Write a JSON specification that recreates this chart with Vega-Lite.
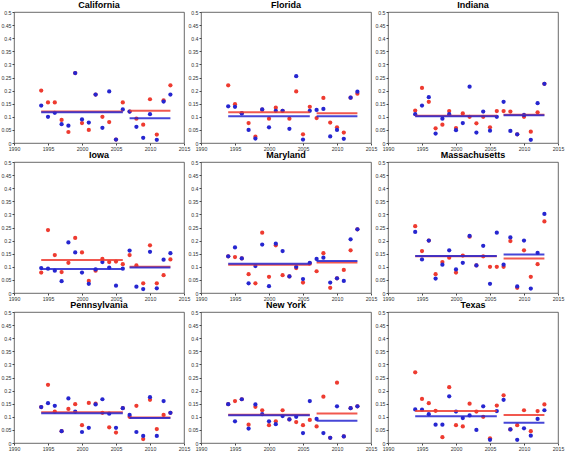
{
"$schema": "https://vega.github.io/schema/vega-lite/v6.json",
"background": "white",
"padding": {"left": 0, "top": 0, "right": 0, "bottom": 0},
"data": {"values": [
{"kind":"obs","state":"California","year":1994,"series":"Series 1","value":0.2},{"kind":"obs","state":"California","year":1994,"series":"Series 2","value":0.143},
{"kind":"obs","state":"California","year":1995,"series":"Series 1","value":0.155},{"kind":"obs","state":"California","year":1995,"series":"Series 2","value":0.1},
{"kind":"obs","state":"California","year":1996,"series":"Series 1","value":0.155},{"kind":"obs","state":"California","year":1996,"series":"Series 2","value":0.115},
{"kind":"obs","state":"California","year":1997,"series":"Series 1","value":0.088},{"kind":"obs","state":"California","year":1997,"series":"Series 2","value":0.072},
{"kind":"obs","state":"California","year":1998,"series":"Series 1","value":0.042},{"kind":"obs","state":"California","year":1998,"series":"Series 2","value":0.066},
{"kind":"obs","state":"California","year":1999,"series":"Series 1","value":0.267},{"kind":"obs","state":"California","year":1999,"series":"Series 2","value":0.267},
{"kind":"obs","state":"California","year":2000,"series":"Series 1","value":0.076},{"kind":"obs","state":"California","year":2000,"series":"Series 2","value":0.09},
{"kind":"obs","state":"California","year":2001,"series":"Series 1","value":0.05},{"kind":"obs","state":"California","year":2001,"series":"Series 2","value":0.078},
{"kind":"obs","state":"California","year":2002,"series":"Series 1","value":0.185},{"kind":"obs","state":"California","year":2002,"series":"Series 2","value":0.185},
{"kind":"obs","state":"California","year":2003,"series":"Series 1","value":0.1},{"kind":"obs","state":"California","year":2003,"series":"Series 2","value":0.058},
{"kind":"obs","state":"California","year":2004,"series":"Series 1","value":0.08},{"kind":"obs","state":"California","year":2004,"series":"Series 2","value":0.197},
{"kind":"obs","state":"California","year":2005,"series":"Series 1","value":0.013},{"kind":"obs","state":"California","year":2005,"series":"Series 2","value":0.013},
{"kind":"obs","state":"California","year":2006,"series":"Series 1","value":0.155},{"kind":"obs","state":"California","year":2006,"series":"Series 2","value":0.128},
{"kind":"obs","state":"California","year":2007,"series":"Series 1","value":0.12},{"kind":"obs","state":"California","year":2007,"series":"Series 2","value":0.12},
{"kind":"obs","state":"California","year":2008,"series":"Series 1","value":0.093},{"kind":"obs","state":"California","year":2008,"series":"Series 2","value":0.062},
{"kind":"obs","state":"California","year":2009,"series":"Series 1","value":0.07},{"kind":"obs","state":"California","year":2009,"series":"Series 2","value":0.02},
{"kind":"obs","state":"California","year":2010,"series":"Series 1","value":0.167},{"kind":"obs","state":"California","year":2010,"series":"Series 2","value":0.11},
{"kind":"obs","state":"California","year":2011,"series":"Series 1","value":0.032},{"kind":"obs","state":"California","year":2011,"series":"Series 2","value":0.012},
{"kind":"obs","state":"California","year":2012,"series":"Series 1","value":0.163},{"kind":"obs","state":"California","year":2012,"series":"Series 2","value":0.158},
{"kind":"obs","state":"California","year":2013,"series":"Series 1","value":0.22},{"kind":"obs","state":"California","year":2013,"series":"Series 2","value":0.185},
{"kind":"mean","state":"California","series":"Series 1","start":1994,"end":2006,"value":0.12},{"kind":"mean","state":"California","series":"Series 2","start":1994,"end":2006,"value":0.117},
{"kind":"mean","state":"California","series":"Series 1","start":2007,"end":2013,"value":0.123},{"kind":"mean","state":"California","series":"Series 2","start":2007,"end":2013,"value":0.094},

{"kind":"obs","state":"Florida","year":1994,"series":"Series 1","value":0.22},{"kind":"obs","state":"Florida","year":1994,"series":"Series 2","value":0.14},
{"kind":"obs","state":"Florida","year":1995,"series":"Series 1","value":0.148},{"kind":"obs","state":"Florida","year":1995,"series":"Series 2","value":0.138},
{"kind":"obs","state":"Florida","year":1996,"series":"Series 1","value":0.114},{"kind":"obs","state":"Florida","year":1996,"series":"Series 2","value":0.113},
{"kind":"obs","state":"Florida","year":1997,"series":"Series 1","value":0.076},{"kind":"obs","state":"Florida","year":1997,"series":"Series 2","value":0.05},
{"kind":"obs","state":"Florida","year":1998,"series":"Series 1","value":0.024},{"kind":"obs","state":"Florida","year":1998,"series":"Series 2","value":0.017},
{"kind":"obs","state":"Florida","year":1999,"series":"Series 1","value":0.127},{"kind":"obs","state":"Florida","year":1999,"series":"Series 2","value":0.128},
{"kind":"obs","state":"Florida","year":2000,"series":"Series 1","value":0.093},{"kind":"obs","state":"Florida","year":2000,"series":"Series 2","value":0.06},
{"kind":"obs","state":"Florida","year":2001,"series":"Series 1","value":0.135},{"kind":"obs","state":"Florida","year":2001,"series":"Series 2","value":0.123},
{"kind":"obs","state":"Florida","year":2002,"series":"Series 1","value":0.123},{"kind":"obs","state":"Florida","year":2002,"series":"Series 2","value":0.123},
{"kind":"obs","state":"Florida","year":2003,"series":"Series 1","value":0.093},{"kind":"obs","state":"Florida","year":2003,"series":"Series 2","value":0.054},
{"kind":"obs","state":"Florida","year":2004,"series":"Series 1","value":0.197},{"kind":"obs","state":"Florida","year":2004,"series":"Series 2","value":0.255},
{"kind":"obs","state":"Florida","year":2005,"series":"Series 1","value":0.033},{"kind":"obs","state":"Florida","year":2005,"series":"Series 2","value":0.013},
{"kind":"obs","state":"Florida","year":2006,"series":"Series 1","value":0.138},{"kind":"obs","state":"Florida","year":2006,"series":"Series 2","value":0.123},
{"kind":"obs","state":"Florida","year":2007,"series":"Series 1","value":0.095},{"kind":"obs","state":"Florida","year":2007,"series":"Series 2","value":0.126},
{"kind":"obs","state":"Florida","year":2008,"series":"Series 1","value":0.172},{"kind":"obs","state":"Florida","year":2008,"series":"Series 2","value":0.13},
{"kind":"obs","state":"Florida","year":2009,"series":"Series 1","value":0.078},{"kind":"obs","state":"Florida","year":2009,"series":"Series 2","value":0.025},
{"kind":"obs","state":"Florida","year":2010,"series":"Series 1","value":0.06},{"kind":"obs","state":"Florida","year":2010,"series":"Series 2","value":0.05},
{"kind":"obs","state":"Florida","year":2011,"series":"Series 1","value":0.04},{"kind":"obs","state":"Florida","year":2011,"series":"Series 2","value":0.016},
{"kind":"obs","state":"Florida","year":2012,"series":"Series 1","value":0.173},{"kind":"obs","state":"Florida","year":2012,"series":"Series 2","value":0.173},
{"kind":"obs","state":"Florida","year":2013,"series":"Series 1","value":0.188},{"kind":"obs","state":"Florida","year":2013,"series":"Series 2","value":0.196},
{"kind":"mean","state":"Florida","series":"Series 1","start":1994,"end":2006,"value":0.117},{"kind":"mean","state":"Florida","series":"Series 2","start":1994,"end":2006,"value":0.102},
{"kind":"mean","state":"Florida","series":"Series 1","start":2007,"end":2013,"value":0.114},{"kind":"mean","state":"Florida","series":"Series 2","start":2007,"end":2013,"value":0.102},

{"kind":"obs","state":"Indiana","year":1994,"series":"Series 1","value":0.124},{"kind":"obs","state":"Indiana","year":1994,"series":"Series 2","value":0.11},
{"kind":"obs","state":"Indiana","year":1995,"series":"Series 1","value":0.21},{"kind":"obs","state":"Indiana","year":1995,"series":"Series 2","value":0.143},
{"kind":"obs","state":"Indiana","year":1996,"series":"Series 1","value":0.157},{"kind":"obs","state":"Indiana","year":1996,"series":"Series 2","value":0.175},
{"kind":"obs","state":"Indiana","year":1997,"series":"Series 1","value":0.056},{"kind":"obs","state":"Indiana","year":1997,"series":"Series 2","value":0.036},
{"kind":"obs","state":"Indiana","year":1998,"series":"Series 1","value":0.07},{"kind":"obs","state":"Indiana","year":1998,"series":"Series 2","value":0.093},
{"kind":"obs","state":"Indiana","year":1999,"series":"Series 1","value":0.122},{"kind":"obs","state":"Indiana","year":1999,"series":"Series 2","value":0.11},
{"kind":"obs","state":"Indiana","year":2000,"series":"Series 1","value":0.057},{"kind":"obs","state":"Indiana","year":2000,"series":"Series 2","value":0.049},
{"kind":"obs","state":"Indiana","year":2001,"series":"Series 1","value":0.113},{"kind":"obs","state":"Indiana","year":2001,"series":"Series 2","value":0.076},
{"kind":"obs","state":"Indiana","year":2002,"series":"Series 1","value":0.1},{"kind":"obs","state":"Indiana","year":2002,"series":"Series 2","value":0.215},
{"kind":"obs","state":"Indiana","year":2003,"series":"Series 1","value":0.075},{"kind":"obs","state":"Indiana","year":2003,"series":"Series 2","value":0.04},
{"kind":"obs","state":"Indiana","year":2004,"series":"Series 1","value":0.1},{"kind":"obs","state":"Indiana","year":2004,"series":"Series 2","value":0.12},
{"kind":"obs","state":"Indiana","year":2005,"series":"Series 1","value":0.06},{"kind":"obs","state":"Indiana","year":2005,"series":"Series 2","value":0.047},
{"kind":"obs","state":"Indiana","year":2006,"series":"Series 1","value":0.122},{"kind":"obs","state":"Indiana","year":2006,"series":"Series 2","value":0.1},
{"kind":"obs","state":"Indiana","year":2007,"series":"Series 1","value":0.122},{"kind":"obs","state":"Indiana","year":2007,"series":"Series 2","value":0.157},
{"kind":"obs","state":"Indiana","year":2008,"series":"Series 1","value":0.12},{"kind":"obs","state":"Indiana","year":2008,"series":"Series 2","value":0.046},
{"kind":"obs","state":"Indiana","year":2009,"series":"Series 1","value":0.033},{"kind":"obs","state":"Indiana","year":2009,"series":"Series 2","value":0.033},
{"kind":"obs","state":"Indiana","year":2010,"series":"Series 1","value":0.1},{"kind":"obs","state":"Indiana","year":2010,"series":"Series 2","value":0.107},
{"kind":"obs","state":"Indiana","year":2011,"series":"Series 1","value":0.043},{"kind":"obs","state":"Indiana","year":2011,"series":"Series 2","value":0.012},
{"kind":"obs","state":"Indiana","year":2012,"series":"Series 1","value":0.117},{"kind":"obs","state":"Indiana","year":2012,"series":"Series 2","value":0.152},
{"kind":"obs","state":"Indiana","year":2013,"series":"Series 1","value":0.226},{"kind":"obs","state":"Indiana","year":2013,"series":"Series 2","value":0.226},
{"kind":"mean","state":"Indiana","series":"Series 1","start":1994,"end":2006,"value":0.104},{"kind":"mean","state":"Indiana","series":"Series 2","start":1994,"end":2006,"value":0.102},
{"kind":"mean","state":"Indiana","series":"Series 1","start":2007,"end":2013,"value":0.108},{"kind":"mean","state":"Indiana","series":"Series 2","start":2007,"end":2013,"value":0.106},

{"kind":"obs","state":"Iowa","year":1994,"series":"Series 1","value":0.078},{"kind":"obs","state":"Iowa","year":1994,"series":"Series 2","value":0.095},
{"kind":"obs","state":"Iowa","year":1995,"series":"Series 1","value":0.24},{"kind":"obs","state":"Iowa","year":1995,"series":"Series 2","value":0.093},
{"kind":"obs","state":"Iowa","year":1996,"series":"Series 1","value":0.145},{"kind":"obs","state":"Iowa","year":1996,"series":"Series 2","value":0.085},
{"kind":"obs","state":"Iowa","year":1997,"series":"Series 1","value":0.08},{"kind":"obs","state":"Iowa","year":1997,"series":"Series 2","value":0.045},
{"kind":"obs","state":"Iowa","year":1998,"series":"Series 1","value":0.115},{"kind":"obs","state":"Iowa","year":1998,"series":"Series 2","value":0.193},
{"kind":"obs","state":"Iowa","year":1999,"series":"Series 1","value":0.21},{"kind":"obs","state":"Iowa","year":1999,"series":"Series 2","value":0.155},
{"kind":"obs","state":"Iowa","year":2000,"series":"Series 1","value":0.155},{"kind":"obs","state":"Iowa","year":2000,"series":"Series 2","value":0.078},
{"kind":"obs","state":"Iowa","year":2001,"series":"Series 1","value":0.046},{"kind":"obs","state":"Iowa","year":2001,"series":"Series 2","value":0.035},
{"kind":"obs","state":"Iowa","year":2002,"series":"Series 1","value":0.085},{"kind":"obs","state":"Iowa","year":2002,"series":"Series 2","value":0.09},
{"kind":"obs","state":"Iowa","year":2003,"series":"Series 1","value":0.13},{"kind":"obs","state":"Iowa","year":2003,"series":"Series 2","value":0.118},
{"kind":"obs","state":"Iowa","year":2004,"series":"Series 1","value":0.118},{"kind":"obs","state":"Iowa","year":2004,"series":"Series 2","value":0.097},
{"kind":"obs","state":"Iowa","year":2005,"series":"Series 1","value":0.12},{"kind":"obs","state":"Iowa","year":2005,"series":"Series 2","value":0.028},
{"kind":"obs","state":"Iowa","year":2006,"series":"Series 1","value":0.11},{"kind":"obs","state":"Iowa","year":2006,"series":"Series 2","value":0.093},
{"kind":"obs","state":"Iowa","year":2007,"series":"Series 1","value":0.145},{"kind":"obs","state":"Iowa","year":2007,"series":"Series 2","value":0.162},
{"kind":"obs","state":"Iowa","year":2008,"series":"Series 1","value":0.105},{"kind":"obs","state":"Iowa","year":2008,"series":"Series 2","value":0.024},
{"kind":"obs","state":"Iowa","year":2009,"series":"Series 1","value":0.037},{"kind":"obs","state":"Iowa","year":2009,"series":"Series 2","value":0.015},
{"kind":"obs","state":"Iowa","year":2010,"series":"Series 1","value":0.182},{"kind":"obs","state":"Iowa","year":2010,"series":"Series 2","value":0.157},
{"kind":"obs","state":"Iowa","year":2011,"series":"Series 1","value":0.037},{"kind":"obs","state":"Iowa","year":2011,"series":"Series 2","value":0.018},
{"kind":"obs","state":"Iowa","year":2012,"series":"Series 1","value":0.068},{"kind":"obs","state":"Iowa","year":2012,"series":"Series 2","value":0.127},
{"kind":"obs","state":"Iowa","year":2013,"series":"Series 1","value":0.128},{"kind":"obs","state":"Iowa","year":2013,"series":"Series 2","value":0.152},
{"kind":"mean","state":"Iowa","series":"Series 1","start":1994,"end":2006,"value":0.126},{"kind":"mean","state":"Iowa","series":"Series 2","start":1994,"end":2006,"value":0.092},
{"kind":"mean","state":"Iowa","series":"Series 1","start":2007,"end":2013,"value":0.1},{"kind":"mean","state":"Iowa","series":"Series 2","start":2007,"end":2013,"value":0.097},

{"kind":"obs","state":"Maryland","year":1994,"series":"Series 1","value":0.14},{"kind":"obs","state":"Maryland","year":1994,"series":"Series 2","value":0.14},
{"kind":"obs","state":"Maryland","year":1995,"series":"Series 1","value":0.137},{"kind":"obs","state":"Maryland","year":1995,"series":"Series 2","value":0.174},
{"kind":"obs","state":"Maryland","year":1996,"series":"Series 1","value":0.132},{"kind":"obs","state":"Maryland","year":1996,"series":"Series 2","value":0.132},
{"kind":"obs","state":"Maryland","year":1997,"series":"Series 1","value":0.072},{"kind":"obs","state":"Maryland","year":1997,"series":"Series 2","value":0.037},
{"kind":"obs","state":"Maryland","year":1998,"series":"Series 1","value":0.037},{"kind":"obs","state":"Maryland","year":1998,"series":"Series 2","value":0.103},
{"kind":"obs","state":"Maryland","year":1999,"series":"Series 1","value":0.23},{"kind":"obs","state":"Maryland","year":1999,"series":"Series 2","value":0.185},
{"kind":"obs","state":"Maryland","year":2000,"series":"Series 1","value":0.062},{"kind":"obs","state":"Maryland","year":2000,"series":"Series 2","value":0.026},
{"kind":"obs","state":"Maryland","year":2001,"series":"Series 1","value":0.182},{"kind":"obs","state":"Maryland","year":2001,"series":"Series 2","value":0.188},
{"kind":"obs","state":"Maryland","year":2002,"series":"Series 1","value":0.068},{"kind":"obs","state":"Maryland","year":2002,"series":"Series 2","value":0.16},
{"kind":"obs","state":"Maryland","year":2003,"series":"Series 1","value":0.063},{"kind":"obs","state":"Maryland","year":2003,"series":"Series 2","value":0.063},
{"kind":"obs","state":"Maryland","year":2004,"series":"Series 1","value":0.095},{"kind":"obs","state":"Maryland","year":2004,"series":"Series 2","value":0.1},
{"kind":"obs","state":"Maryland","year":2005,"series":"Series 1","value":0.04},{"kind":"obs","state":"Maryland","year":2005,"series":"Series 2","value":0.053},
{"kind":"obs","state":"Maryland","year":2006,"series":"Series 1","value":0.112},{"kind":"obs","state":"Maryland","year":2006,"series":"Series 2","value":0.115},
{"kind":"obs","state":"Maryland","year":2007,"series":"Series 1","value":0.083},{"kind":"obs","state":"Maryland","year":2007,"series":"Series 2","value":0.13},
{"kind":"obs","state":"Maryland","year":2008,"series":"Series 1","value":0.152},{"kind":"obs","state":"Maryland","year":2008,"series":"Series 2","value":0.135},
{"kind":"obs","state":"Maryland","year":2009,"series":"Series 1","value":0.02},{"kind":"obs","state":"Maryland","year":2009,"series":"Series 2","value":0.04},
{"kind":"obs","state":"Maryland","year":2010,"series":"Series 1","value":0.056},{"kind":"obs","state":"Maryland","year":2010,"series":"Series 2","value":0.056},
{"kind":"obs","state":"Maryland","year":2011,"series":"Series 1","value":0.088},{"kind":"obs","state":"Maryland","year":2011,"series":"Series 2","value":0.046},
{"kind":"obs","state":"Maryland","year":2012,"series":"Series 1","value":0.163},{"kind":"obs","state":"Maryland","year":2012,"series":"Series 2","value":0.205},
{"kind":"obs","state":"Maryland","year":2013,"series":"Series 1","value":0.243},{"kind":"obs","state":"Maryland","year":2013,"series":"Series 2","value":0.243},
{"kind":"mean","state":"Maryland","series":"Series 1","start":1994,"end":2006,"value":0.108},{"kind":"mean","state":"Maryland","series":"Series 2","start":1994,"end":2006,"value":0.112},
{"kind":"mean","state":"Maryland","series":"Series 1","start":2007,"end":2013,"value":0.116},{"kind":"mean","state":"Maryland","series":"Series 2","start":2007,"end":2013,"value":0.122},

{"kind":"obs","state":"Massachusetts","year":1994,"series":"Series 1","value":0.255},{"kind":"obs","state":"Massachusetts","year":1994,"series":"Series 2","value":0.233},
{"kind":"obs","state":"Massachusetts","year":1995,"series":"Series 1","value":0.16},{"kind":"obs","state":"Massachusetts","year":1995,"series":"Series 2","value":0.128},
{"kind":"obs","state":"Massachusetts","year":1996,"series":"Series 1","value":0.2},{"kind":"obs","state":"Massachusetts","year":1996,"series":"Series 2","value":0.2},
{"kind":"obs","state":"Massachusetts","year":1997,"series":"Series 1","value":0.072},{"kind":"obs","state":"Massachusetts","year":1997,"series":"Series 2","value":0.055},
{"kind":"obs","state":"Massachusetts","year":1998,"series":"Series 1","value":0.118},{"kind":"obs","state":"Massachusetts","year":1998,"series":"Series 2","value":0.108},
{"kind":"obs","state":"Massachusetts","year":1999,"series":"Series 1","value":0.135},{"kind":"obs","state":"Massachusetts","year":1999,"series":"Series 2","value":0.163},
{"kind":"obs","state":"Massachusetts","year":2000,"series":"Series 1","value":0.078},{"kind":"obs","state":"Massachusetts","year":2000,"series":"Series 2","value":0.09},
{"kind":"obs","state":"Massachusetts","year":2001,"series":"Series 1","value":0.143},{"kind":"obs","state":"Massachusetts","year":2001,"series":"Series 2","value":0.115},
{"kind":"obs","state":"Massachusetts","year":2002,"series":"Series 1","value":0.215},{"kind":"obs","state":"Massachusetts","year":2002,"series":"Series 2","value":0.218},
{"kind":"obs","state":"Massachusetts","year":2003,"series":"Series 1","value":0.105},{"kind":"obs","state":"Massachusetts","year":2003,"series":"Series 2","value":0.105},
{"kind":"obs","state":"Massachusetts","year":2004,"series":"Series 1","value":0.14},{"kind":"obs","state":"Massachusetts","year":2004,"series":"Series 2","value":0.18},
{"kind":"obs","state":"Massachusetts","year":2005,"series":"Series 1","value":0.1},{"kind":"obs","state":"Massachusetts","year":2005,"series":"Series 2","value":0.035},
{"kind":"obs","state":"Massachusetts","year":2006,"series":"Series 1","value":0.1},{"kind":"obs","state":"Massachusetts","year":2006,"series":"Series 2","value":0.23},
{"kind":"obs","state":"Massachusetts","year":2007,"series":"Series 1","value":0.1},{"kind":"obs","state":"Massachusetts","year":2007,"series":"Series 2","value":0.108},
{"kind":"obs","state":"Massachusetts","year":2008,"series":"Series 1","value":0.198},{"kind":"obs","state":"Massachusetts","year":2008,"series":"Series 2","value":0.212},
{"kind":"obs","state":"Massachusetts","year":2009,"series":"Series 1","value":0.02},{"kind":"obs","state":"Massachusetts","year":2009,"series":"Series 2","value":0.025},
{"kind":"obs","state":"Massachusetts","year":2010,"series":"Series 1","value":0.163},{"kind":"obs","state":"Massachusetts","year":2010,"series":"Series 2","value":0.2},
{"kind":"obs","state":"Massachusetts","year":2011,"series":"Series 1","value":0.062},{"kind":"obs","state":"Massachusetts","year":2011,"series":"Series 2","value":0.017},
{"kind":"obs","state":"Massachusetts","year":2012,"series":"Series 1","value":0.11},{"kind":"obs","state":"Massachusetts","year":2012,"series":"Series 2","value":0.153},
{"kind":"obs","state":"Massachusetts","year":2013,"series":"Series 1","value":0.273},{"kind":"obs","state":"Massachusetts","year":2013,"series":"Series 2","value":0.302},
{"kind":"mean","state":"Massachusetts","series":"Series 1","start":1994,"end":2006,"value":0.14},{"kind":"mean","state":"Massachusetts","series":"Series 2","start":1994,"end":2006,"value":0.141},
{"kind":"mean","state":"Massachusetts","series":"Series 1","start":2007,"end":2013,"value":0.132},{"kind":"mean","state":"Massachusetts","series":"Series 2","start":2007,"end":2013,"value":0.147},

{"kind":"obs","state":"Pennsylvania","year":1994,"series":"Series 1","value":0.137},{"kind":"obs","state":"Pennsylvania","year":1994,"series":"Series 2","value":0.137},
{"kind":"obs","state":"Pennsylvania","year":1995,"series":"Series 1","value":0.222},{"kind":"obs","state":"Pennsylvania","year":1995,"series":"Series 2","value":0.152},
{"kind":"obs","state":"Pennsylvania","year":1996,"series":"Series 1","value":0.12},{"kind":"obs","state":"Pennsylvania","year":1996,"series":"Series 2","value":0.142},
{"kind":"obs","state":"Pennsylvania","year":1997,"series":"Series 1","value":0.045},{"kind":"obs","state":"Pennsylvania","year":1997,"series":"Series 2","value":0.045},
{"kind":"obs","state":"Pennsylvania","year":1998,"series":"Series 1","value":0.13},{"kind":"obs","state":"Pennsylvania","year":1998,"series":"Series 2","value":0.17},
{"kind":"obs","state":"Pennsylvania","year":1999,"series":"Series 1","value":0.148},{"kind":"obs","state":"Pennsylvania","year":1999,"series":"Series 2","value":0.12},
{"kind":"obs","state":"Pennsylvania","year":2000,"series":"Series 1","value":0.068},{"kind":"obs","state":"Pennsylvania","year":2000,"series":"Series 2","value":0.042},
{"kind":"obs","state":"Pennsylvania","year":2001,"series":"Series 1","value":0.153},{"kind":"obs","state":"Pennsylvania","year":2001,"series":"Series 2","value":0.058},
{"kind":"obs","state":"Pennsylvania","year":2002,"series":"Series 1","value":0.15},{"kind":"obs","state":"Pennsylvania","year":2002,"series":"Series 2","value":0.147},
{"kind":"obs","state":"Pennsylvania","year":2003,"series":"Series 1","value":0.115},{"kind":"obs","state":"Pennsylvania","year":2003,"series":"Series 2","value":0.167},
{"kind":"obs","state":"Pennsylvania","year":2004,"series":"Series 1","value":0.06},{"kind":"obs","state":"Pennsylvania","year":2004,"series":"Series 2","value":0.112},
{"kind":"obs","state":"Pennsylvania","year":2005,"series":"Series 1","value":0.04},{"kind":"obs","state":"Pennsylvania","year":2005,"series":"Series 2","value":0.058},
{"kind":"obs","state":"Pennsylvania","year":2006,"series":"Series 1","value":0.133},{"kind":"obs","state":"Pennsylvania","year":2006,"series":"Series 2","value":0.133},
{"kind":"obs","state":"Pennsylvania","year":2007,"series":"Series 1","value":0.1},{"kind":"obs","state":"Pennsylvania","year":2007,"series":"Series 2","value":0.107},
{"kind":"obs","state":"Pennsylvania","year":2008,"series":"Series 1","value":0.142},{"kind":"obs","state":"Pennsylvania","year":2008,"series":"Series 2","value":0.042},
{"kind":"obs","state":"Pennsylvania","year":2009,"series":"Series 1","value":0.015},{"kind":"obs","state":"Pennsylvania","year":2009,"series":"Series 2","value":0.027},
{"kind":"obs","state":"Pennsylvania","year":2010,"series":"Series 1","value":0.165},{"kind":"obs","state":"Pennsylvania","year":2010,"series":"Series 2","value":0.175},
{"kind":"obs","state":"Pennsylvania","year":2011,"series":"Series 1","value":0.053},{"kind":"obs","state":"Pennsylvania","year":2011,"series":"Series 2","value":0.027},
{"kind":"obs","state":"Pennsylvania","year":2012,"series":"Series 1","value":0.107},{"kind":"obs","state":"Pennsylvania","year":2012,"series":"Series 2","value":0.16},
{"kind":"obs","state":"Pennsylvania","year":2013,"series":"Series 1","value":0.115},{"kind":"obs","state":"Pennsylvania","year":2013,"series":"Series 2","value":0.115},
{"kind":"mean","state":"Pennsylvania","series":"Series 1","start":1994,"end":2006,"value":0.117},{"kind":"mean","state":"Pennsylvania","series":"Series 2","start":1994,"end":2006,"value":0.114},
{"kind":"mean","state":"Pennsylvania","series":"Series 1","start":2007,"end":2013,"value":0.097},{"kind":"mean","state":"Pennsylvania","series":"Series 2","start":2007,"end":2013,"value":0.095},

{"kind":"obs","state":"New York","year":1994,"series":"Series 1","value":0.148},{"kind":"obs","state":"New York","year":1994,"series":"Series 2","value":0.148},
{"kind":"obs","state":"New York","year":1995,"series":"Series 1","value":0.16},{"kind":"obs","state":"New York","year":1995,"series":"Series 2","value":0.083},
{"kind":"obs","state":"New York","year":1996,"series":"Series 1","value":0.167},{"kind":"obs","state":"New York","year":1996,"series":"Series 2","value":0.167},
{"kind":"obs","state":"New York","year":1997,"series":"Series 1","value":0.07},{"kind":"obs","state":"New York","year":1997,"series":"Series 2","value":0.055},
{"kind":"obs","state":"New York","year":1998,"series":"Series 1","value":0.138},{"kind":"obs","state":"New York","year":1998,"series":"Series 2","value":0.147},
{"kind":"obs","state":"New York","year":1999,"series":"Series 1","value":0.125},{"kind":"obs","state":"New York","year":1999,"series":"Series 2","value":0.11},
{"kind":"obs","state":"New York","year":2000,"series":"Series 1","value":0.068},{"kind":"obs","state":"New York","year":2000,"series":"Series 2","value":0.083},
{"kind":"obs","state":"New York","year":2001,"series":"Series 1","value":0.083},{"kind":"obs","state":"New York","year":2001,"series":"Series 2","value":0.072},
{"kind":"obs","state":"New York","year":2002,"series":"Series 1","value":0.125},{"kind":"obs","state":"New York","year":2002,"series":"Series 2","value":0.103},
{"kind":"obs","state":"New York","year":2003,"series":"Series 1","value":0.09},{"kind":"obs","state":"New York","year":2003,"series":"Series 2","value":0.09},
{"kind":"obs","state":"New York","year":2004,"series":"Series 1","value":0.08},{"kind":"obs","state":"New York","year":2004,"series":"Series 2","value":0.1},
{"kind":"obs","state":"New York","year":2005,"series":"Series 1","value":0.068},{"kind":"obs","state":"New York","year":2005,"series":"Series 2","value":0.038},
{"kind":"obs","state":"New York","year":2006,"series":"Series 1","value":0.088},{"kind":"obs","state":"New York","year":2006,"series":"Series 2","value":0.16},
{"kind":"obs","state":"New York","year":2007,"series":"Series 1","value":0.063},{"kind":"obs","state":"New York","year":2007,"series":"Series 2","value":0.092},
{"kind":"obs","state":"New York","year":2008,"series":"Series 1","value":0.177},{"kind":"obs","state":"New York","year":2008,"series":"Series 2","value":0.038},
{"kind":"obs","state":"New York","year":2009,"series":"Series 1","value":0.02},{"kind":"obs","state":"New York","year":2009,"series":"Series 2","value":0.02},
{"kind":"obs","state":"New York","year":2010,"series":"Series 1","value":0.23},{"kind":"obs","state":"New York","year":2010,"series":"Series 2","value":0.14},
{"kind":"obs","state":"New York","year":2011,"series":"Series 1","value":0.025},{"kind":"obs","state":"New York","year":2011,"series":"Series 2","value":0.025},
{"kind":"obs","state":"New York","year":2012,"series":"Series 1","value":0.133},{"kind":"obs","state":"New York","year":2012,"series":"Series 2","value":0.133},
{"kind":"obs","state":"New York","year":2013,"series":"Series 1","value":0.14},{"kind":"obs","state":"New York","year":2013,"series":"Series 2","value":0.14},
{"kind":"mean","state":"New York","series":"Series 1","start":1994,"end":2006,"value":0.108},{"kind":"mean","state":"New York","series":"Series 2","start":1994,"end":2006,"value":0.106},
{"kind":"mean","state":"New York","series":"Series 1","start":2007,"end":2013,"value":0.113},{"kind":"mean","state":"New York","series":"Series 2","start":2007,"end":2013,"value":0.085},

{"kind":"obs","state":"Texas","year":1994,"series":"Series 1","value":0.27},{"kind":"obs","state":"Texas","year":1994,"series":"Series 2","value":0.128},
{"kind":"obs","state":"Texas","year":1995,"series":"Series 1","value":0.168},{"kind":"obs","state":"Texas","year":1995,"series":"Series 2","value":0.127},
{"kind":"obs","state":"Texas","year":1996,"series":"Series 1","value":0.152},{"kind":"obs","state":"Texas","year":1996,"series":"Series 2","value":0.11},
{"kind":"obs","state":"Texas","year":1997,"series":"Series 1","value":0.123},{"kind":"obs","state":"Texas","year":1997,"series":"Series 2","value":0.07},
{"kind":"obs","state":"Texas","year":1998,"series":"Series 1","value":0.022},{"kind":"obs","state":"Texas","year":1998,"series":"Series 2","value":0.07},
{"kind":"obs","state":"Texas","year":1999,"series":"Series 1","value":0.213},{"kind":"obs","state":"Texas","year":1999,"series":"Series 2","value":0.178},
{"kind":"obs","state":"Texas","year":2000,"series":"Series 1","value":0.068},{"kind":"obs","state":"Texas","year":2000,"series":"Series 2","value":0.12},
{"kind":"obs","state":"Texas","year":2001,"series":"Series 1","value":0.063},{"kind":"obs","state":"Texas","year":2001,"series":"Series 2","value":0.095},
{"kind":"obs","state":"Texas","year":2002,"series":"Series 1","value":0.15},{"kind":"obs","state":"Texas","year":2002,"series":"Series 2","value":0.105},
{"kind":"obs","state":"Texas","year":2003,"series":"Series 1","value":0.12},{"kind":"obs","state":"Texas","year":2003,"series":"Series 2","value":0.05},
{"kind":"obs","state":"Texas","year":2004,"series":"Series 1","value":0.1},{"kind":"obs","state":"Texas","year":2004,"series":"Series 2","value":0.14},
{"kind":"obs","state":"Texas","year":2005,"series":"Series 1","value":0.018},{"kind":"obs","state":"Texas","year":2005,"series":"Series 2","value":0.012},
{"kind":"obs","state":"Texas","year":2006,"series":"Series 1","value":0.143},{"kind":"obs","state":"Texas","year":2006,"series":"Series 2","value":0.122},
{"kind":"obs","state":"Texas","year":2007,"series":"Series 1","value":0.182},{"kind":"obs","state":"Texas","year":2007,"series":"Series 2","value":0.165},
{"kind":"obs","state":"Texas","year":2008,"series":"Series 1","value":0.052},{"kind":"obs","state":"Texas","year":2008,"series":"Series 2","value":0.052},
{"kind":"obs","state":"Texas","year":2009,"series":"Series 1","value":0.068},{"kind":"obs","state":"Texas","year":2009,"series":"Series 2","value":0.012},
{"kind":"obs","state":"Texas","year":2010,"series":"Series 1","value":0.125},{"kind":"obs","state":"Texas","year":2010,"series":"Series 2","value":0.056},
{"kind":"obs","state":"Texas","year":2011,"series":"Series 1","value":0.045},{"kind":"obs","state":"Texas","year":2011,"series":"Series 2","value":0.028},
{"kind":"obs","state":"Texas","year":2012,"series":"Series 1","value":0.122},{"kind":"obs","state":"Texas","year":2012,"series":"Series 2","value":0.092},
{"kind":"obs","state":"Texas","year":2013,"series":"Series 1","value":0.147},{"kind":"obs","state":"Texas","year":2013,"series":"Series 2","value":0.125},
{"kind":"mean","state":"Texas","series":"Series 1","start":1994,"end":2006,"value":0.122},{"kind":"mean","state":"Texas","series":"Series 2","start":1994,"end":2006,"value":0.102},
{"kind":"mean","state":"Texas","series":"Series 1","start":2007,"end":2013,"value":0.107},{"kind":"mean","state":"Texas","series":"Series 2","start":2007,"end":2013,"value":0.077}
]},
"facet": {"field": "state", "type": "nominal", "title": null,
  "sort": ["California","Florida","Indiana","Iowa","Maryland","Massachusetts","Pennsylvania","New York","Texas"],
  "header": {"labelFont": "Liberation Sans", "labelFontSize": 9, "labelFontWeight": "bold", "labelColor": "#000", "labelPadding": 0}},
"columns": 3,
"spacing": {"column": -4, "row": -2},
"resolve": {"axis": {"x": "independent", "y": "independent"}},
"spec": {
  "width": 170, "height": 131,
  "encoding": {
    "y": {"field": "value", "type": "quantitative", "scale": {"domain": [0, 0.5], "nice": false}, "axis": {"values": [0,0.05,0.1,0.15,0.2,0.25,0.3,0.35,0.4,0.45,0.5], "format": ".2~f", "title": null, "labelOverlap": false}},
    "color": {"field": "series", "type": "nominal", "scale": {"domain": ["Series 1","Series 2"], "range": ["#ee3b30","#2626d0"]}, "legend": null}
  },
  "layer": [
    {"transform": [{"filter": "datum.kind === 'obs'"}],
     "mark": {"type": "point", "filled": true, "size": 18, "opacity": 1},
     "encoding": {
       "x": {"field": "year", "type": "quantitative", "scale": {"domain": [1990, 2015], "nice": false}, "axis": {"values": [1990,1995,2000,2005,2010,2015], "format": "d", "title": null, "labelOverlap": false}},
       "order": {"field": "series", "type": "nominal", "sort": "ascending"}
     }},
    {"transform": [{"filter": "datum.kind === 'mean'"}],
     "mark": {"type": "rule", "strokeWidth": 2, "opacity": 0.85},
     "encoding": {
       "x": {"field": "start", "type": "quantitative", "scale": {"domain": [1990, 2015], "nice": false}, "axis": {"values": [1990,1995,2000,2005,2010,2015], "format": "d", "title": null, "labelOverlap": false}},
       "x2": {"field": "end"}
     }}
  ]
},
"config": {
  "font": "Liberation Sans",
  "view": {"stroke": "#444", "strokeWidth": 0.8},
  "axis": {"grid": false, "domain": false, "labelFontSize": 5.2, "labelColor": "#333", "tickSize": 2, "tickColor": "#444", "labelPadding": 1, "labelFlush": false, "labelOverlap": false}
}
}
